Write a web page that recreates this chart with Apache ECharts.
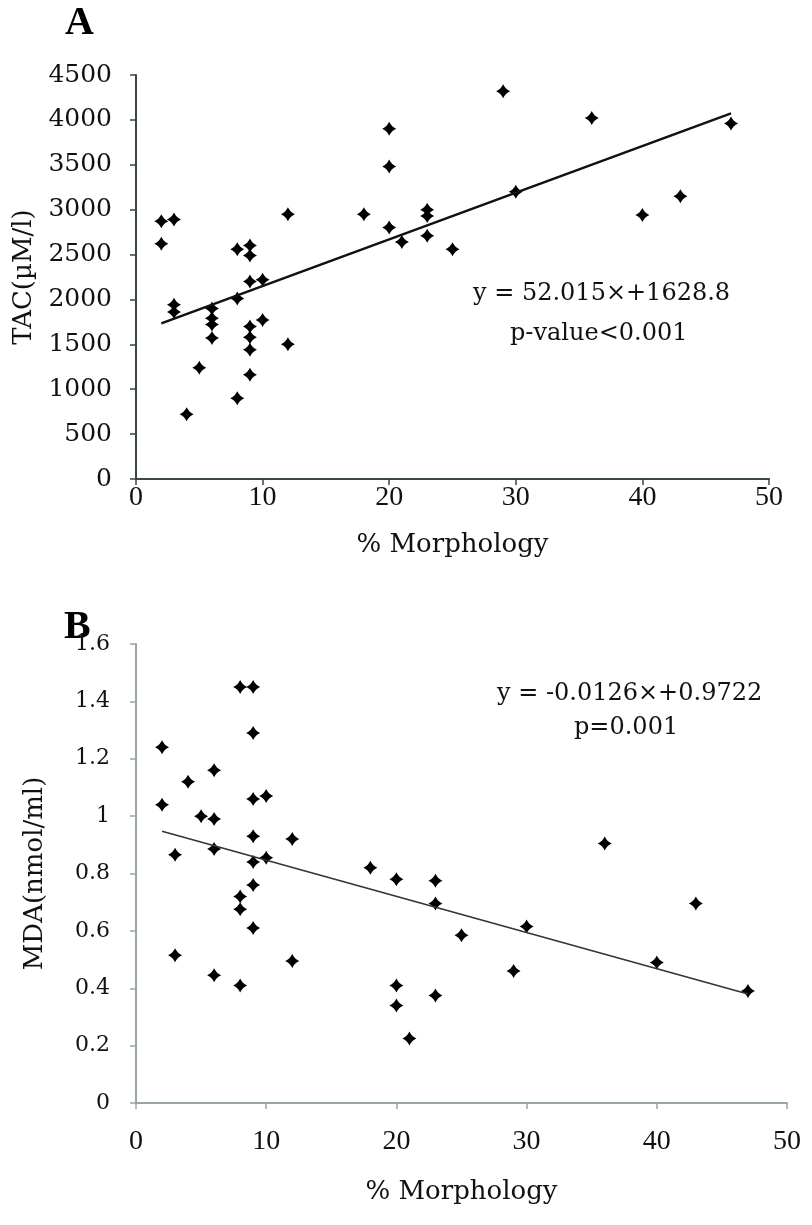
<!DOCTYPE html>
<html>
<head>
<meta charset="utf-8">
<script src="https://cdn.jsdelivr.net/npm/echarts@6/dist/echarts.min.js"></script>
<style>
html,body{margin:0;padding:0;background:#fff;}
#c{width:812px;height:1225px;}
</style>
</head>
<body>
<div id="c"></div>
<script>
// Panel A: % Morphology vs TAC (µM/l)
const morphA = [2,3,2,12,8,9,9,9,10,8,3,3,6,6,6,6,10,9,9,9,12,5,9,8,4,29,20,20,18,20,21,23,23,23,25,30,36,47,40,43];
const tacA   = [2870,2890,2620,2950,2560,2600,2490,2200,2220,2010,1940,1860,1900,1790,1720,1570,1770,1700,1580,1440,1500,1240,1160,900,720,4320,3900,3480,2950,2800,2640,3000,2930,2710,2560,3200,4020,3960,2940,3150];
const trendA = [[2,1733],[47,4073]];

// Panel B: % Morphology vs MDA (nmol/ml)
const morphB = [8,9,9,2,6,4,10,9,2,5,6,9,12,6,3,10,9,9,8,8,9,3,12,6,8,18,20,23,23,25,30,29,20,20,23,21,36,43,40,47];
const mdaB   = [1.45,1.45,1.29,1.24,1.16,1.12,1.07,1.06,1.04,1.00,0.99,0.93,0.92,0.885,0.865,0.855,0.84,0.76,0.72,0.675,0.61,0.515,0.495,0.445,0.41,0.82,0.78,0.775,0.695,0.585,0.615,0.46,0.41,0.34,0.375,0.225,0.905,0.695,0.49,0.39];
const trendB = [[2,0.947],[47,0.380]];

const xTicks = [0,10,20,30,40,50];
const yTicksA = [0,500,1000,1500,2000,2500,3000,3500,4000,4500];
const yTicksB = [0,0.2,0.4,0.6,0.8,1,1.2,1.4,1.6];

const FONT = '"DejaVu Serif", "Liberation Serif", serif';
const FONTX = '"Liberation Serif", "DejaVu Serif", serif';
const axA = '#3a4545';
const axB = '#9aa6a6';
const MARK = 'path://M0,-10 Q3.2,-3.2 10,0 Q3.2,3.2 0,10 Q-3.2,3.2 -10,0 Q-3.2,-3.2 0,-10 Z';

function pairs(xs, ys){ return xs.map((x,i)=>[x, ys[i]]); }

function xAxisCfg(gi, color, margin, nameGap){
  return {
    type:'value', gridIndex:gi, min:xTicks[0], max:xTicks[xTicks.length-1], interval:10,
    name:'% Morphology', nameLocation:'middle', nameGap:nameGap,
    nameTextStyle:{fontFamily:FONT, fontSize:26, color:'#111'},
    axisLine:{show:true, onZero:false, lineStyle:{color:color, width:2}},
    axisTick:{show:true, length:6, lineStyle:{color:color, width:1.5}},
    axisLabel:{fontFamily:FONTX, fontSize:28, color:'#111', margin:margin, formatter:(v)=>String(v)},
    splitLine:{show:false}
  };
}
function yAxisCfg(gi, color, max, interval, name, nameGap, fs, margin){
  return {
    type:'value', gridIndex:gi, min:0, max:max, interval:interval,
    name:name, nameLocation:'middle', nameGap:nameGap,
    nameTextStyle:{fontFamily:FONT, fontSize:26, color:'#111'},
    axisLine:{show:true, lineStyle:{color:color, width:2}},
    axisTick:{show:true, length:6, lineStyle:{color:color, width:1.5}},
    axisLabel:{fontFamily:FONT, fontSize:fs, color:'#111', margin:margin,
      formatter:(v)=>String(Math.round(v*1000)/1000)},
    splitLine:{show:false}
  };
}

const chart = echarts.init(document.getElementById('c'), null, {renderer:'canvas'});
chart.setOption({
  backgroundColor:'#fff',
  animation:false,
  grid:[
    {left:136, top:75, width:633, height:404},
    {left:136, top:644, width:651, height:459}
  ],
  xAxis:[ xAxisCfg(0, axA, 5, 53), xAxisCfg(1, axB, 25, 76) ],
  yAxis:[
    yAxisCfg(0, axA, yTicksA[yTicksA.length-1], 500, 'TAC(µM/l)', 96, 25, 24),
    yAxisCfg(1, axB, yTicksB[yTicksB.length-1], 0.2, 'MDA(nmol/ml)', 88, 22, 26)
  ],
  series:[
    {type:'scatter', xAxisIndex:0, yAxisIndex:0, data:pairs(morphA, tacA),
     symbol:MARK, symbolSize:14, itemStyle:{color:'#000', opacity:1}},
    {type:'line', xAxisIndex:0, yAxisIndex:0, data:trendA, symbol:'none',
     lineStyle:{color:'#111', width:2.5}},
    {type:'scatter', xAxisIndex:1, yAxisIndex:1, data:pairs(morphB, mdaB),
     symbol:MARK, symbolSize:14, itemStyle:{color:'#000', opacity:1}},
    {type:'line', xAxisIndex:1, yAxisIndex:1, data:trendB, symbol:'none',
     lineStyle:{color:'#333', width:1.5}}
  ],
  graphic:[
    {type:'text', left:65, top:4, style:{text:'A', font:'bold 40px '+FONTX, fill:'#000'}},
    {type:'text', left:64, top:608, style:{text:'B', font:'bold 40px '+FONTX, fill:'#000'}},
    {type:'text', left:473, top:282, style:{text:'y = 52.015×+1628.8', font:'24px '+FONT, fill:'#111'}},
    {type:'text', left:510, top:322, style:{text:'p-value<0.001', font:'24px '+FONT, fill:'#111'}},
    {type:'text', left:497, top:682, style:{text:'y = -0.0126×+0.9722', font:'24px '+FONT, fill:'#111'}},
    {type:'text', left:574, top:716, style:{text:'p=0.001', font:'24px '+FONT, fill:'#111'}}
  ]
});
</script>
</body>
</html>
